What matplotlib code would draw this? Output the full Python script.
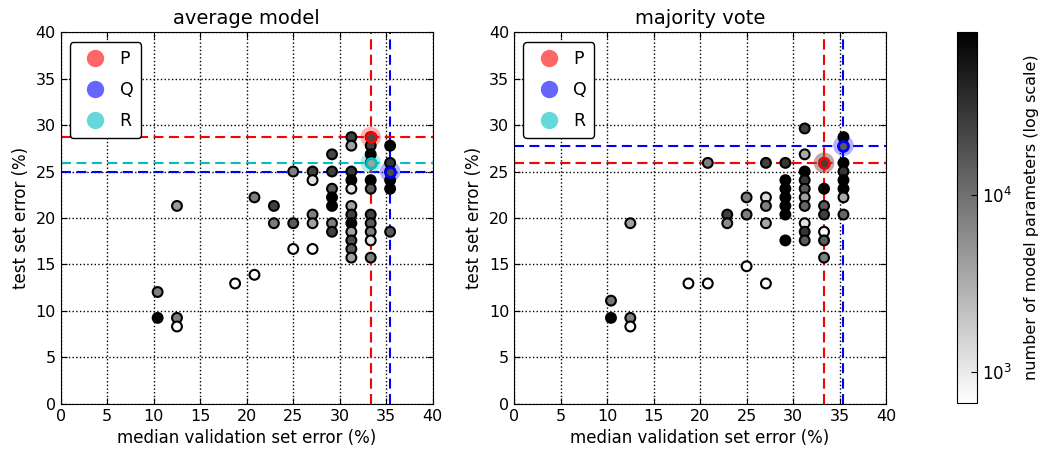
import matplotlib
matplotlib.use('Agg')
import matplotlib.pyplot as plt
from matplotlib.colors import LogNorm
from matplotlib.lines import Line2D

# average model: median validation error, test error, number of parameters
avg_x = [10.42, 10.42,
         12.5, 12.5, 12.5,
         18.75,
         20.83, 20.83,
         22.92, 22.92,
         25.0, 25.0, 25.0,
         27.08, 27.08, 27.08, 27.08, 27.08,
         29.17, 29.17, 29.17, 29.17, 29.17, 29.17, 29.17,
         31.25, 31.25, 31.25, 31.25, 31.25, 31.25, 31.25, 31.25, 31.25, 31.25, 31.25, 31.25,
         33.33, 33.33, 33.33, 33.33, 33.33, 33.33, 33.33, 33.33, 33.33, 33.33, 33.33,
         35.42, 35.42, 35.42, 35.42, 35.42, 35.42]
avg_y = [12.04, 9.26,
         21.3, 9.26, 8.33,
         12.96,
         22.22, 13.89,
         21.3, 19.44,
         25.0, 19.44, 16.67,
         25.0, 24.07, 20.37, 19.44, 16.67,
         26.85, 25.0, 23.15, 22.22, 21.3, 19.44, 18.52,
         28.7, 27.78, 25.0, 24.07, 23.15, 21.3, 20.37, 19.44, 18.52, 17.59, 16.67, 15.74,
         28.7, 27.78, 26.85, 25.93, 24.07, 23.15, 20.37, 19.44, 18.52, 17.59, 15.74,
         27.78, 25.93, 25.0, 24.07, 23.15, 18.52]
avg_params = [7500, 80000,
              4500, 7500, 700,
              700,
              7500, 700,
              25000, 8000,
              7500, 15000, 700,
              25000, 1200, 7500, 4000, 700,
              22000, 25000, 15000, 80000, 80000, 7500, 25000,
              25000, 4000, 30000, 80000, 1200, 4000, 25000, 80000, 4000, 20000, 15000, 4000,
              20000, 25000, 80000, 4000, 80000, 15000, 25000, 15000, 7500, 1200, 7500,
              80000, 30000, 20000, 80000, 80000, 15000]

# majority vote
maj_x = [10.42, 10.42,
         12.5, 12.5, 12.5,
         18.75,
         20.83, 20.83,
         22.92, 22.92,
         25.0, 25.0, 25.0,
         27.08, 27.08, 27.08, 27.08, 27.08,
         29.17, 29.17, 29.17, 29.17, 29.17, 29.17, 29.17,
         31.25, 31.25, 31.25, 31.25, 31.25, 31.25, 31.25, 31.25, 31.25, 31.25,
         33.33, 33.33, 33.33, 33.33, 33.33, 33.33, 33.33,
         35.42, 35.42, 35.42, 35.42, 35.42, 35.42, 35.42, 35.42]
maj_y = [11.11, 9.26,
         19.44, 9.26, 8.33,
         12.96,
         25.93, 12.96,
         20.37, 19.44,
         22.22, 20.37, 14.81,
         25.93, 22.22, 21.3, 19.44, 12.96,
         25.93, 24.07, 23.15, 22.22, 21.3, 20.37, 17.59,
         29.63, 26.85, 25.0, 24.07, 23.15, 22.22, 21.3, 19.44, 18.52, 17.59,
         25.93, 23.15, 21.3, 20.37, 18.52, 17.59, 15.74,
         28.7, 27.78, 25.93, 25.0, 24.07, 23.15, 22.22, 20.37]
maj_params = [9000, 80000,
              4000, 7500, 700,
              700,
              7500, 700,
              25000, 6000,
              7500, 8000, 700,
              25000, 1300, 7500, 3500, 700,
              30000, 80000, 80000, 80000, 80000, 80000, 80000,
              25000, 3500, 80000, 30000, 15000, 4000, 12000, 1200, 30000, 15000,
              25000, 80000, 15000, 25000, 700, 15000, 7500,
              80000, 15000, 80000, 30000, 80000, 80000, 3500, 12000]

# highlighted models (x, y) per panel
avg_marked = {'P': (33.33, 28.7), 'Q': (35.42, 25.0), 'R': (33.33, 25.93)}
maj_marked = {'P': (33.33, 25.93), 'Q': (35.42, 27.78), 'R': (33.33, 25.93)}
mark_colors = {'P': 'r', 'Q': 'b', 'R': 'c'}

norm = LogNorm(vmin=671, vmax=83600)
cmap = 'gray_r'
dash = (0, (4.8, 2.6))

fig = plt.figure(figsize=(10.47, 4.58), dpi=100)
ax1 = fig.add_axes([0.058, 0.118, 0.3553, 0.812])
ax2 = fig.add_axes([0.491, 0.118, 0.3553, 0.812])
cax = fig.add_axes([0.9143, 0.120, 0.0188, 0.811])


def draw_panel(ax, xs, ys, params, marked, title):
    ax.set_axisbelow(True)
    ax.grid(True, color='k', linestyle=':', linewidth=1)
    # reference lines for the marked models (R first so P/Q sit on top)
    for name in ['R', 'Q', 'P']:
        mx, my = marked[name]
        ax.axvline(mx, color=mark_colors[name], ls=dash, lw=1.5, zorder=1.5)
        ax.axhline(my, color=mark_colors[name], ls=dash, lw=1.5, zorder=1.5)
    for name in ['R', 'Q', 'P']:
        mx, my = marked[name]
        ax.scatter([mx], [my], s=220, color=mark_colors[name], alpha=0.3,
                   edgecolors='none', zorder=2)
    sc = ax.scatter(xs, ys, c=params, cmap=cmap, norm=norm, s=50,
                    edgecolors='k', linewidths=1.5, zorder=3)
    # redraw the marked points with coloured edges
    for name in ['R', 'Q', 'P']:
        mx, my = marked[name]
        for x, y, p in zip(xs, ys, params):
            if x == mx and y == my:
                ax.scatter([x], [y], c=[p], cmap=cmap, norm=norm, s=50,
                           edgecolors=mark_colors[name], linewidths=2, zorder=4)
    ax.set_xlim(0, 40)
    ax.set_ylim(0, 40)
    ax.set_xticks(range(0, 41, 5))
    ax.set_yticks(range(0, 41, 5))
    ax.tick_params(direction='in', top=True, right=True, length=4, labelsize=11.5)
    ax.set_xlabel('median validation set error (%)', fontsize=12)
    ax.set_ylabel('test set error (%)', fontsize=12)
    ax.set_title(title, fontsize=14)
    handles = [Line2D([], [], ls='', marker='o', markersize=12.5, color=mark_colors[n],
                      alpha=0.6, markeredgecolor='none') for n in ['P', 'Q', 'R']]
    leg = ax.legend(handles, ['P', 'Q', 'R'], loc='upper left',
                    bbox_to_anchor=(0.025, 0.973), borderaxespad=0, fontsize=12.5,
                    handletextpad=0.4, handlelength=2.0, labelspacing=0.75,
                    borderpad=0.45, fancybox=True, framealpha=1)
    leg.get_frame().set_edgecolor('k')
    leg.get_frame().set_linewidth(1)
    return sc


sc = draw_panel(ax1, avg_x, avg_y, avg_params, avg_marked, 'average model')
draw_panel(ax2, maj_x, maj_y, maj_params, maj_marked, 'majority vote')

cb = fig.colorbar(sc, cax=cax)
cb.set_ticks([1e3, 1e4])
cb.ax.minorticks_off()
cb.ax.tick_params(direction='in', length=4, labelsize=12)
cb.set_label('number of model parameters (log scale)', fontsize=11.5, labelpad=9)

fig.savefig('out.png', dpi=100)
